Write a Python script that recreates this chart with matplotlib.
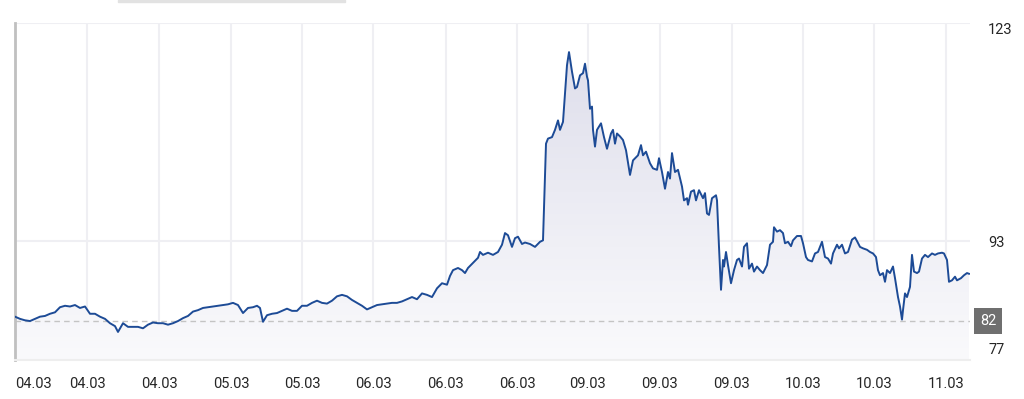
import numpy as np
import matplotlib
matplotlib.use("Agg")
import matplotlib.pyplot as plt
from matplotlib.colors import LinearSegmentedColormap
from matplotlib.patches import Rectangle

plt.rcParams['font.family'] = ['Roboto', 'DejaVu Sans']

# time steps (arbitrary intraday units) and price
t = [0, 5, 10, 15, 20, 25, 30, 35, 40, 45,
     50, 55, 60, 65, 70, 75, 80, 85, 90, 95,
     100, 103, 108, 113, 118, 123, 128, 133, 138, 143,
     148, 153, 158, 163, 168, 173, 178, 183, 188, 193,
     198, 203, 208, 213, 218, 223, 228, 233, 238, 242,
     245, 248, 252, 257, 262, 267, 272, 277, 282, 287,
     292, 297, 302, 307, 312, 317, 322, 327, 332, 337,
     342, 347, 352, 357, 362, 367, 372, 377, 382, 387,
     392, 397, 402, 407, 412, 417, 422, 427, 432, 435,
     438, 443, 447, 450, 453, 458, 463, 465, 468, 473,
     478, 483, 487, 490, 493, 497, 500, 503, 507, 510,
     515, 520, 525, 528, 531, 533, 537, 540, 543, 545,
     548, 550, 552, 554, 557, 560, 562, 565, 568, 570,
     572, 573, 575, 577, 578, 580, 582, 586, 589, 592,
     596, 598, 600, 602, 605, 608, 611, 615, 618, 623,
     626, 628, 631, 635, 638, 642, 644, 647, 650, 653,
     655, 657, 660, 663, 667, 669, 672, 673, 676, 679,
     681, 684, 688, 690, 692, 694, 697, 701, 702, 704,
     706, 708, 709, 711, 713, 716, 719, 722, 724, 727,
     729, 732, 734, 737, 739, 742, 745, 748, 752, 755,
     758, 759, 762, 765, 768, 770, 773, 776, 778, 782,
     786, 788, 791, 793, 797, 800, 803, 807, 810, 813,
     816, 818, 822, 824, 827, 830, 833, 837, 840, 842,
     845, 848, 852, 855, 858, 861, 863, 865, 868, 870,
     872, 875, 878, 880, 883, 885, 887, 888, 890, 892,
     895, 897, 899, 902, 904, 907, 910, 913, 917, 920,
     923, 927, 929, 932, 934, 937, 940, 942, 946, 949,
     952, 954]

price = [82.6, 82.3, 82.1, 82.0, 82.3, 82.6, 82.7, 83.0, 83.2, 83.9,
         84.1, 84.0, 84.2, 83.8, 84.0, 83.0, 83.0, 82.6, 82.3, 81.7,
         81.3, 80.5, 81.7, 81.2, 81.2, 81.2, 81.0, 81.5, 81.8, 81.7,
         81.7, 81.5, 81.7, 82.0, 82.4, 82.7, 83.3, 83.5, 83.8, 83.9,
         84.0, 84.1, 84.2, 84.3, 84.5, 84.2, 83.1, 83.8, 83.9, 84.1,
         83.8, 81.9, 82.8, 83.0, 83.1, 83.4, 83.7, 83.4, 83.4, 84.1,
         84.1, 84.5, 84.8, 84.5, 84.4, 84.8, 85.4, 85.6, 85.4, 84.9,
         84.5, 84.1, 83.6, 83.9, 84.2, 84.3, 84.4, 84.5, 84.5, 84.7,
         85.0, 85.3, 85.0, 85.8, 85.6, 85.3, 86.5, 87.2, 87.0, 88.2,
         89.0, 89.3, 89.0, 88.6, 89.3, 90.0, 90.7, 91.5, 91.1, 91.4,
         91.1, 91.5, 92.5, 94.1, 93.8, 92.2, 93.4, 93.6, 92.6, 92.8,
         92.6, 92.2, 92.9, 93.1, 106.4, 107.1, 107.3, 108.3, 109.6, 108.3,
         109.4, 113.3, 117.2, 119.0, 116.3, 114.0, 114.2, 115.8, 116.1, 117.4,
         115.6, 115.1, 111.2, 111.5, 108.3, 106.0, 108.3, 109.2, 107.3, 105.7,
         107.8, 108.3, 106.4, 107.8, 107.4, 106.9, 105.5, 102.1, 104.1, 104.8,
         106.2, 104.8, 105.3, 103.7, 103.0, 102.8, 104.4, 102.5, 100.2, 102.5,
         101.6, 105.1, 102.5, 102.8, 100.5, 98.6, 98.9, 98.0, 99.8, 100.0,
         98.6, 100.0, 98.9, 99.6, 96.8, 96.6, 98.9, 99.3, 98.6, 92.2,
         86.3, 90.4, 89.5, 91.5, 89.7, 87.2, 89.0, 90.4, 90.6, 89.5,
         92.2, 92.7, 89.2, 89.9, 88.8, 89.5, 89.0, 88.6, 89.7, 92.5,
         92.9, 94.9, 94.3, 94.5, 94.1, 92.7, 92.9, 92.3, 93.1, 93.7,
         93.7, 92.7, 90.8, 90.4, 90.2, 91.3, 91.5, 92.9, 90.8, 90.6,
         89.9, 91.3, 92.5, 92.0, 92.5, 91.3, 91.5, 93.2, 93.5, 93.0,
         92.2, 92.0, 91.8, 91.5, 91.3, 90.8, 89.0, 88.3, 88.6, 87.4,
         89.0, 88.6, 89.5, 87.9, 85.3, 84.0, 82.2, 83.5, 85.8, 85.3,
         86.7, 91.1, 88.8, 88.6, 88.8, 90.6, 91.1, 90.8, 91.3, 91.1,
         91.3, 91.4, 91.3, 90.4, 87.4, 87.6, 88.1, 87.6, 87.9, 88.3,
         88.6, 88.5]

tick_pos = [0, 72, 144, 216, 287, 358, 431, 502, 573, 645, 717, 788, 859, 931]
tick_labels = ['04.03', '04.03', '04.03', '05.03', '05.03', '06.03', '06.03',
               '06.03', '09.03', '09.03', '09.03', '10.03', '10.03', '11.03']
y_ticks = [77, 93, 123]
ref_level = 82

ymin, ymax = 76.64, 123.0
xmax = 955

fig = plt.figure(figsize=(10.24, 3.99), dpi=100)
ax = fig.add_axes([15 / 1024, 39 / 399, 955 / 1024, 337 / 399])

# gradient area under the line
cmap = LinearSegmentedColormap.from_list('fill', ['#fafafc', '#dcdcea'])
grad = np.linspace(0, 1, 256).reshape(-1, 1)
im = ax.imshow(grad, extent=[0, xmax, ymin, ymax], origin='lower',
               aspect='auto', cmap=cmap, zorder=1)
poly = ax.fill_between(t, price, ymin, facecolor='none', edgecolor='none')
im.set_clip_path(poly.get_paths()[0], transform=ax.transData)

ax.plot(t, price, color='#1d4b96', lw=1.4, zorder=3)

# reference dashed line
ax.axhline(ref_level, color='#c4c4c4', lw=1, ls=(0, (4, 3)), zorder=2)

ax.set_xlim(0, xmax)
ax.set_ylim(ymin, ymax)

for p in tick_pos[1:]:
    ax.axvline(p, color='#efeff3', lw=1.5, zorder=0)
for v in [93, 123]:
    ax.axhline(v, color='#efeff3', lw=1.5, zorder=0)

ax.set_xticks(tick_pos)
ax.set_xticklabels(tick_labels, fontsize=10.5, color='#262626')
ax.get_xticklabels()[0].set_horizontalalignment('left')
ax.tick_params(axis='x', length=0, pad=12)

ax.yaxis.tick_right()
ax.set_yticks(y_ticks)
ax.set_yticklabels([str(v) for v in y_ticks], fontsize=10.5, color='#262626')
ax.tick_params(axis='y', length=0, pad=13)
ylabs = ax.get_yticklabels()
ylabs[0].set_verticalalignment('bottom')
ylabs[2].set_verticalalignment('top')

ax.text(1.0105, ref_level, str(ref_level), transform=ax.get_yaxis_transform(),
        ha='left', va='center', fontsize=10.5, color='white',
        bbox=dict(boxstyle='square,pad=0.42', facecolor='#6f6f6f', edgecolor='none'))

for s in ['top', 'right']:
    ax.spines[s].set_visible(False)
ax.spines['left'].set_color('#c0c0c0')
ax.spines['left'].set_linewidth(2)
ax.spines['bottom'].set_color('#eeeeee')
ax.spines['bottom'].set_linewidth(1.5)

fig.add_artist(Rectangle((118 / 1024, 397 / 399), 227 / 1024, 2 / 399,
                         transform=fig.transFigure, color='#e2e2e2'))

fig.savefig('out.png', dpi=100)
